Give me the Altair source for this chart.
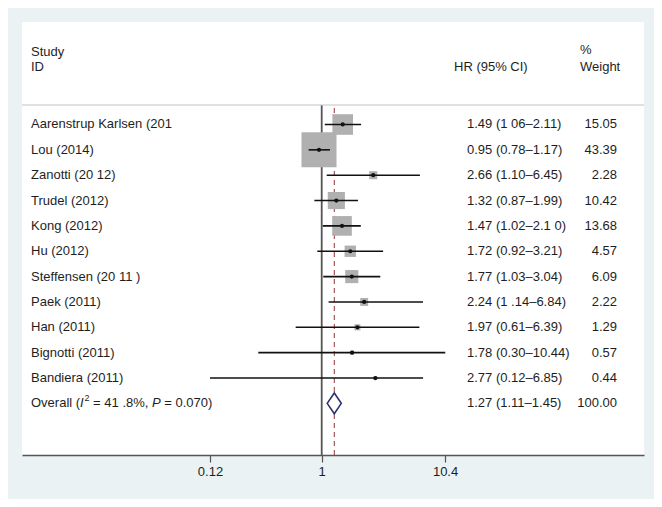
import altair as alt
import pandas as pd

# ---------------- data ----------------
studies = ["Aarenstrup Karlsen (201", "Lou (2014)", "Zanotti (20 12)", "Trudel (2012)",
           "Kong (2012)", "Hu (2012)", "Steffensen (20 11 )", "Paek (2011)", "Han (2011)",
           "Bignotti (2011)", "Bandiera (2011)"]
hr = [1.49, 0.95, 2.66, 1.32, 1.47, 1.72, 1.77, 2.24, 1.97, 1.78, 2.77]
ci_lo = [1.06, 0.78, 1.10, 0.87, 1.02, 0.92, 1.03, 1.14, 0.61, 0.30, 0.12]
ci_hi = [2.11, 1.17, 6.45, 1.99, 2.10, 3.21, 3.04, 6.84, 6.39, 10.44, 6.85]
ci_text = ["1.49 (1 06\u20132.11)", "0.95 (0.78\u20131.17)", "2.66 (1.10\u20136.45)",
           "1.32 (0.87\u20131.99)", "1.47 (1.02\u20132.1 0)", "1.72 (0.92\u20133.21)",
           "1.77 (1.03\u20133.04)", "2.24 (1 .14\u20136.84)", "1.97 (0.61\u20136.39)",
           "1.78 (0.30\u201310.44)", "2.77 (0.12\u20136.85)"]
weights = [15.05, 43.39, 2.28, 10.42, 13.68, 4.57, 6.09, 2.22, 1.29, 0.57, 0.44]

overall_hr = 1.27
overall_lo = 1.11
overall_hi = 1.45
overall_ci_text = "1.27 (1.11\u20131.45)"
overall_weight = "100.00"

tick_values = [0.12, 1, 10.4]

# ---------------- tables ----------------
rows = list(range(1, len(studies) + 1))
overall_row = len(studies) + 1

df = pd.DataFrame({
    "row": rows, "study": studies, "hr": hr, "lo": ci_lo, "hi": ci_hi,
    "ci": ci_text, "w": weights, "wtxt": [f"{w:.2f}" for w in weights],
})
ov = pd.DataFrame({"row": [overall_row], "hr": [overall_hr], "ci": [overall_ci_text],
                   "wtxt": [overall_weight]})
half = 0.41
dia = pd.DataFrame({
    "x": [overall_lo, overall_hr, overall_hi],
    "y": [overall_row, overall_row - half, overall_row],
    "y2": [overall_row, overall_row + half, overall_row],
})
ref = pd.DataFrame({"ref": [1.0]})

FONT = "Liberation Sans"
TXT = "#1e1e1e"
W, H = 622, 433

XS = alt.Scale(type="log", domain=[0.003382, 454.0], nice=False)
AX = alt.Axis(values=tick_values, format="~g", title=None, grid=False,
              domainColor="#555555", domainWidth=1.6, tickColor="#555555",
              tickWidth=1.2, tickSize=7, labelPadding=3, labelFont=FONT,
              labelFontSize=13, labelColor=TXT)
YS = alt.Scale(domain=[-3.043, 14.037], reverse=True, nice=False, zero=False)


def X(field):
    return alt.X(field, scale=XS, axis=AX)


def Y(field):
    return alt.Y(field, scale=YS, axis=None)


base = alt.Chart(df)

red_line = alt.Chart(ov).mark_rule(color="#90353b", strokeDash=[5, 4], strokeWidth=1).encode(
    x=X("hr:Q"), y=alt.value(86), y2=alt.value(H))
one_line = alt.Chart(ref).mark_rule(color="#555555", strokeWidth=1.8).encode(
    x=X("ref:Q"), y=alt.value(83), y2=alt.value(H))
head_line = alt.Chart(ref).mark_rule(color="#c4c4c4", strokeWidth=1.2).encode(
    x=alt.value(0), x2=alt.value(W), y=alt.value(83))

boxes = base.mark_square(color="#b0b0b0", opacity=1).encode(
    x=X("hr:Q"), y=Y("row:Q"),
    size=alt.Size("w:Q", scale=alt.Scale(domain=[0, 43.39], range=[0, 1225]), legend=None))
cis = base.mark_rule(color="#111111", strokeWidth=1.6).encode(
    x=X("lo:Q"), x2="hi:Q", y=Y("row:Q"))
pts = base.mark_circle(color="#111111", size=18, opacity=1).encode(
    x=X("hr:Q"), y=Y("row:Q"))
diamond = alt.Chart(dia).mark_area(fill="white", stroke="#2f2f70", strokeWidth=1.6,
                                   fillOpacity=1).encode(
    x=X("x:Q"), y=Y("y:Q"), y2="y2:Q")

tk = dict(font=FONT, fontSize=13, color=TXT, baseline="middle")
study_txt = base.mark_text(align="left", **tk).encode(
    x=alt.value(9), y=Y("row:Q"), text="study:N")
ci_txt = base.mark_text(align="left", **tk).encode(
    x=alt.value(445), y=Y("row:Q"), text="ci:N")
w_txt = base.mark_text(align="right", **tk).encode(
    x=alt.value(595), y=Y("row:Q"), text="wtxt:N")
ov_ci = alt.Chart(ov).mark_text(align="left", **tk).encode(
    x=alt.value(445), y=Y("row:Q"), text="ci:N")
ov_w = alt.Chart(ov).mark_text(align="right", **tk).encode(
    x=alt.value(595), y=Y("row:Q"), text="wtxt:N")

# Overall label composed of normal / italic / superscript pieces
ov_parts = []
pieces = [("Overall (", 0, "normal", 13, 0),
          ("I", 49.1, "italic", 13, 0),
          ("2", 53.5, "normal", 9, -5),
          ("= 41 .8%,", 62.1, "normal", 13, 0),
          ("P", 121.0, "italic", 13, 0),
          ("= 0.070)", 133.3, "normal", 13, 0)]
for t, dx, style, fs, dy in pieces:
    ov_parts.append(
        alt.Chart(ov).mark_text(align="left", baseline="middle", font=FONT, fontSize=fs,
                                fontStyle=style, color=TXT, dx=dx, dy=dy).encode(
            x=alt.value(9), y=Y("row:Q"), text=alt.value(t)))

hk = dict(font=FONT, fontSize=13, color=TXT, baseline="alphabetic", align="left")
hdr = [
    alt.Chart(ref).mark_text(**hk).encode(x=alt.value(9), y=alt.value(34), text=alt.value("Study")),
    alt.Chart(ref).mark_text(**hk).encode(x=alt.value(9), y=alt.value(49), text=alt.value("ID")),
    alt.Chart(ref).mark_text(**hk).encode(x=alt.value(432), y=alt.value(49), text=alt.value("HR (95% CI)")),
    alt.Chart(ref).mark_text(**hk).encode(x=alt.value(558), y=alt.value(32), text=alt.value("%")),
    alt.Chart(ref).mark_text(**hk).encode(x=alt.value(558), y=alt.value(49), text=alt.value("Weight")),
]

chart = alt.layer(
    red_line, one_line, head_line, boxes, cis, pts, diamond,
    study_txt, ci_txt, w_txt, ov_ci, ov_w, *ov_parts, *hdr
).properties(
    width=W, height=H,
    autosize=alt.AutoSizeParams(type="none"),
    padding={"left": 14, "top": 14, "right": 10, "bottom": 44},
).configure(background="#eaf2f3").configure_view(fill="white", stroke=None)

chart.save("out.html", embed_options={"renderer": "svg", "actions": False})
